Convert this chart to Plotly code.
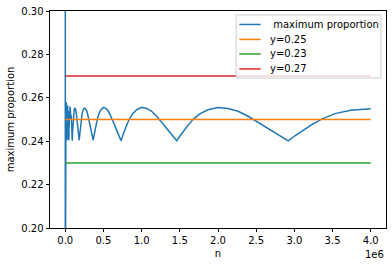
import plotly.graph_objects as go

# --- data ---
n_small = [1, 400, 800, 1200, 1700, 2300, 3000, 3800, 4700, 5600, 6600, 7700, 8900,
           10200, 11600, 13100, 14700, 16400, 18200, 20100, 22100, 24200, 26400,
           28700, 31100, 33600, 36200, 38900, 41700, 43500]
p_small = [1.0, 0.15, 0.34, 0.2184, 0.30, 0.2300, 0.2720, 0.2400, 0.2590, 0.2410,
           0.2585, 0.2420, 0.2575, 0.2405, 0.2560, 0.2430, 0.2580, 0.2410, 0.2570,
           0.2450, 0.2555, 0.2405, 0.2550, 0.2440, 0.2565, 0.2415, 0.2540, 0.2450,
           0.2530, 0.2420]

n_arch = [45625, 46994, 48363, 50188, 52469, 55206, 58400, 62506, 66613, 70719, 74825, 78931, 83038, 87144,
          91250, 93988, 96725, 100375, 104938, 110413, 116800, 125013, 133225, 141438, 149650, 157863, 166075, 174288,
          182500, 187975, 193450, 200750, 209875, 220825, 233600, 250025, 266450, 282875, 299300, 315725, 332150, 348575,
          365000, 375950, 386900, 401500, 419750, 441650, 467200, 500050, 532900, 565750, 598600, 631450, 664300, 697150,
          730000, 751900, 773800, 803000, 839500, 883300, 934400, 1000100, 1065800, 1131500, 1197200, 1262900, 1328600, 1394300,
          1460000, 1503800, 1547600, 1606000, 1679000, 1766600, 1868800, 2000200, 2131600, 2263000, 2394400, 2525800, 2657200, 2788600,
          2920000, 3007600, 3095200, 3212000, 3358000, 3533200, 3737600, 4000000]
p_arch = [0.2405, 0.2450, 0.2430, 0.2500, 0.2470, 0.2540, 0.2515, 0.2560, 0.2530, 0.2550, 0.2500, 0.2520, 0.2450, 0.2445,
          0.2402, 0.2425, 0.2447, 0.2473, 0.2502, 0.2527, 0.2545, 0.2553, 0.2549, 0.2536, 0.2513, 0.2487, 0.2458, 0.2428,
          0.2405, 0.2425, 0.2447, 0.2473, 0.2502, 0.2527, 0.2545, 0.2552, 0.2549, 0.2538, 0.2515, 0.2487, 0.2458, 0.2428,
          0.2405, 0.2425, 0.2447, 0.2473, 0.2502, 0.2527, 0.2545, 0.2556, 0.2551, 0.2538, 0.2515, 0.2487, 0.2458, 0.2428,
          0.2402, 0.2425, 0.2447, 0.2473, 0.2502, 0.2527, 0.2545, 0.2556, 0.2551, 0.2538, 0.2515, 0.2487, 0.2458, 0.2428,
          0.2402, 0.2425, 0.2447, 0.2473, 0.2502, 0.2527, 0.2545, 0.2555, 0.2551, 0.2538, 0.2515, 0.2487, 0.2458, 0.2428,
          0.2402, 0.2425, 0.2447, 0.2473, 0.2502, 0.2527, 0.2543, 0.2550]

n_values = n_small + n_arch
max_prop = p_small + p_arch

line_x = [0, 4000000]
levels = [0.25, 0.23, 0.27]
level_names = ["y=0.25", "y=0.23", "y=0.27"]
level_colors = ["#ff7f0e", "#2ca02c", "#d62728"]

legend_names = [" maximum proportion"] + level_names
legend_colors = ["#1f77b4"] + level_colors

x_tickvals = [0, 500000, 1000000, 1500000, 2000000, 2500000, 3000000, 3500000, 4000000]
x_ticktext = ["0.0", "0.5", "1.0", "1.5", "2.0", "2.5", "3.0", "3.5", "4.0"]
y_tickvals = [0.20, 0.22, 0.24, 0.26, 0.28, 0.30]
y_ticktext = ["0.20", "0.22", "0.24", "0.26", "0.28", "0.30"]

fig = go.Figure()
fig.add_trace(go.Scatter(x=n_values, y=max_prop, mode="lines",
                         name=" maximum proportion",
                         line=dict(color="#1f77b4", width=1.5)))
for lv, nm, c in zip(levels, level_names, level_colors):
    fig.add_trace(go.Scatter(x=line_x, y=[lv, lv], mode="lines", name=nm,
                             line=dict(color=c, width=1.5)))

axis_common = dict(showline=True, mirror=True, linecolor="black", linewidth=0.8,
                   ticks="outside", ticklen=3.5, tickwidth=0.8, tickcolor="black",
                   showgrid=False, zeroline=False,
                   tickfont=dict(family="DejaVu Sans", size=10, color="black"))

# manual legend (matplotlib-like compact layout)
shapes = [dict(type="rect", xref="paper", yref="paper", x0=0.554, x1=0.985,
               y0=0.691, y1=0.982, line=dict(color="#cccccc", width=1),
               fillcolor="rgba(255,255,255,0.8)", layer="above")]
annotations = []
entry_y = [0.938, 0.869, 0.802, 0.733]
for ey, nm, c in zip(entry_y, legend_names, legend_colors):
    shapes.append(dict(type="line", xref="paper", yref="paper", x0=0.5634, x1=0.6271,
                       y0=ey, y1=ey, line=dict(color=c, width=1.5), layer="above"))
    annotations.append(dict(text=nm.replace(" ", "&nbsp;", 1) if nm.startswith(" ") else nm,
                            xref="paper", yref="paper", x=0.650, y=ey,
                            xanchor="left", yanchor="middle", showarrow=False,
                            font=dict(size=10, color="black")))
annotations.append(dict(text="1e6", xref="paper", yref="paper", x=1.0, y=-0.12,
                        xanchor="right", yanchor="middle", showarrow=False,
                        font=dict(size=10, color="black")))

fig.update_layout(
    width=392, height=266,
    margin=dict(l=50, r=6, t=11, b=38),
    paper_bgcolor="white", plot_bgcolor="white",
    font=dict(family="DejaVu Sans", size=10, color="black"),
    xaxis=dict(range=[-200000, 4200000], tickmode="array", tickvals=x_tickvals,
               ticktext=x_ticktext,
               title=dict(text="n", font=dict(size=10), standoff=4), **axis_common),
    yaxis=dict(range=[0.20, 0.30], tickmode="array", tickvals=y_tickvals,
               ticktext=y_ticktext,
               title=dict(text="maximum proportion", font=dict(size=10), standoff=4),
               **axis_common),
    showlegend=False,
    shapes=shapes,
    annotations=annotations,
)

fig.write_html("out.html")
